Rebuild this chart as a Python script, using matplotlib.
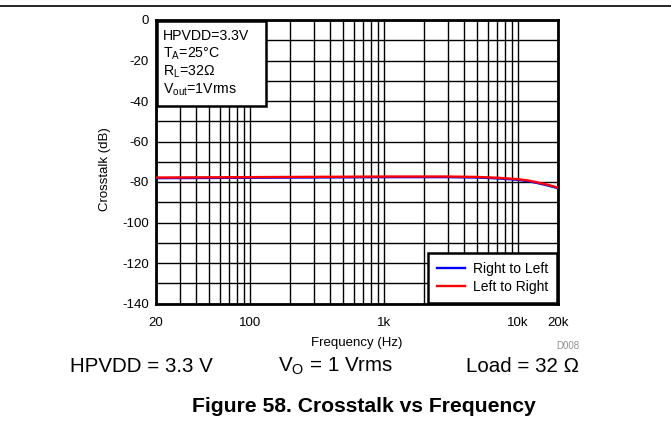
import numpy as np
import matplotlib.pyplot as plt
from matplotlib.patches import Rectangle
from matplotlib.ticker import FixedLocator, NullFormatter

plt.rcParams['font.family'] = ['Liberation Sans', 'DejaVu Sans']
plt.rcParams['mathtext.fontset'] = 'custom'
plt.rcParams['mathtext.rm'] = 'Liberation Sans'

# data
freq = [20, 50, 100, 200, 500, 1000, 2000, 3000, 5000, 7000, 10000, 12000, 14000, 17000, 20000]
right_to_left = [-78.1, -78.0, -77.9, -77.8, -77.7, -77.6, -77.6, -77.6, -77.8, -78.2, -78.9, -79.6, -80.5, -81.8, -83.1]
left_to_right = [-77.8, -77.7, -77.6, -77.5, -77.4, -77.3, -77.3, -77.3, -77.5, -77.9, -78.6, -79.3, -80.2, -81.5, -82.8]

xticks = [20, 100, 1000, 10000, 20000]
xlabels = ['20', '100', '1k', '10k', '20k']
yticks = list(range(-140, 1, 20))
info_lines = ['HPVDD=3.3V', 'T$_\\mathregular{A}$=25°C', 'R$_\\mathregular{L}$=32Ω', 'V$_\\mathregular{out}$=1Vrms']

W, H = 671, 438
fig = plt.figure(figsize=(W / 100, H / 100), dpi=100)
ax = fig.add_axes([156 / W, 1 - 303.5 / H, 402 / W, 283.5 / H])

ax.plot(freq, right_to_left, color='#0000ff', lw=1.7, zorder=3, label='Right to Left')
ax.plot(freq, left_to_right, color='#ff0000', lw=1.7, zorder=4, label='Left to Right')

ax.set_xscale('log')
ax.set_xlim(20, 20000)
ax.set_ylim(-140, 0)

minor_x = [m * 10 ** d for d in range(1, 5) for m in range(1, 10)]
minor_x = [v for v in minor_x if 20 < v < 20000]
ax.xaxis.set_major_locator(FixedLocator(xticks))
ax.set_xticklabels(xlabels)
ax.xaxis.set_minor_locator(FixedLocator(minor_x))
ax.xaxis.set_minor_formatter(NullFormatter())
ax.set_yticks(yticks)
ax.set_yticklabels([str(v) for v in yticks])
ax.yaxis.set_minor_locator(FixedLocator(list(range(-130, 0, 20))))

ax.grid(which='both', color='black', lw=1.0)
ax.tick_params(which='both', length=0, labelsize=9.5)
ax.tick_params(axis='x', pad=10)
ax.tick_params(axis='y', pad=5)
for s in ax.spines.values():
    s.set_linewidth(2)

ax.set_xlabel('Frequency (Hz)', fontsize=9.5, labelpad=5.5)
ax.set_ylabel('Crosstalk (dB)', fontsize=9.5)
ax.yaxis.set_label_coords(-0.113, 0.473)

# conditions box, top left
def px(x, y):
    return x / W, 1 - y / H

box = Rectangle(px(157, 106), 109 / W, 85 / H, transform=fig.transFigure,
                facecolor='white', edgecolor='black', lw=1.8, zorder=6)
fig.patches.append(box)
for i, line in enumerate(info_lines):
    fig.text(*px(163, 40 + 18 * i), line, fontsize=10.2, ha='left', va='baseline', zorder=7)

leg = ax.legend(loc='lower right', fontsize=10, fancybox=False, framealpha=1,
                edgecolor='black', borderaxespad=0.05, handlelength=2.0,
                handletextpad=0.6, labelspacing=0.25, borderpad=0.65)
leg.get_frame().set_linewidth(1.8)
leg.set_zorder(7)

fig.text(*px(568, 346), 'D008', fontsize=7, color='#909090', ha='center', va='center')
fig.add_artist(plt.Line2D([0, 1], [1 - 5.5 / H, 1 - 5.5 / H], color='black', lw=1.2))

fig.text(*px(141, 366), 'HPVDD = 3.3 V', fontsize=14.8, ha='center', va='center')
fig.text(*px(336, 366), 'V$_\\mathregular{O}$ = 1 Vrms', fontsize=14.8, ha='center', va='center')
fig.text(*px(523, 366), 'Load = 32 Ω', fontsize=14.8, ha='center', va='center')
fig.text(*px(364, 407), 'Figure 58. Crosstalk vs Frequency', fontsize=15.2,
         fontweight='bold', ha='center', va='center')

fig.savefig('out.png', dpi=100)
